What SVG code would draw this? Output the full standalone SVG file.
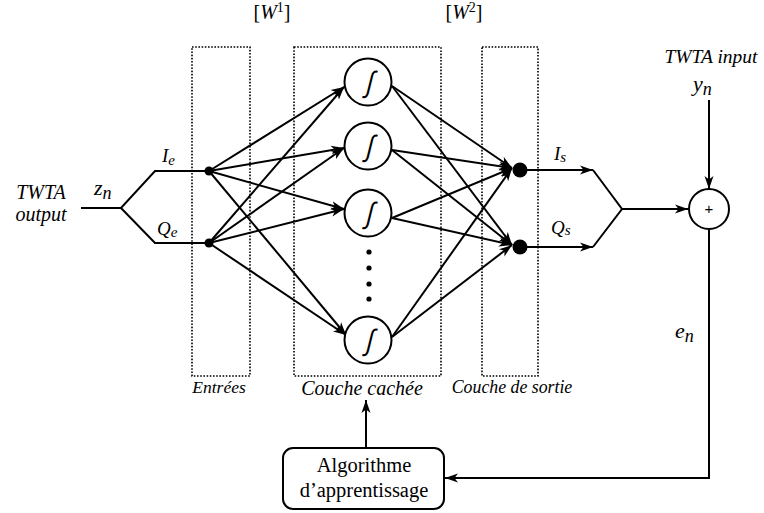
<svg xmlns="http://www.w3.org/2000/svg" width="764" height="513" viewBox="0 0 764 513">
<defs>
<marker id="ah" markerWidth="14" markerHeight="10" refX="13" refY="5" orient="auto" markerUnits="userSpaceOnUse">
<path d="M0,0.5 L13,5 L0,9.5 L3.5,5 z" fill="#000"/>
</marker>
<style>
.ln{stroke:#000;stroke-width:2;fill:none}
.ar{stroke:#000;stroke-width:2;fill:none;marker-end:url(#ah)}
.box{stroke:#000;stroke-width:1.6;fill:none;stroke-dasharray:1.6 1.6}
.neu{stroke:#000;stroke-width:2;fill:#fff}
.t{font-family:"Liberation Serif",serif;fill:#000}
.it{font-family:"Liberation Serif",serif;font-style:italic;fill:#000}
.sig{font-family:"DejaVu Sans",sans-serif;font-weight:200;font-size:28px;text-anchor:middle;fill:#000}
</style>
</defs>
<rect width="764" height="513" fill="#fff"/>

<g id="layers">
<rect class="box" x="192" y="47" width="58" height="329"/>
<rect class="box" x="294" y="47" width="147" height="329"/>
<rect class="box" x="482" y="47" width="56" height="329"/>
<text class="it" x="219" y="393" font-size="17.5" text-anchor="middle">Entrées</text>
<text class="it" x="362" y="395" font-size="20" text-anchor="middle">Couche cachée</text>
<text class="it" x="512" y="393" font-size="17.8" text-anchor="middle">Couche de sortie</text>
<text class="t" x="272" y="19" font-size="20" text-anchor="middle">[<tspan font-style="italic">W</tspan><tspan font-size="14" dy="-7">1</tspan><tspan dy="7">]</tspan></text>
<text class="t" x="464" y="19" font-size="20" text-anchor="middle">[<tspan font-style="italic">W</tspan><tspan font-size="14" dy="-7">2</tspan><tspan dy="7">]</tspan></text>
</g>

<g id="connectors">
<polyline class="ln" points="81,208 121,208 155,171 209,171"/>
<polyline class="ln" points="121,208 155,243 209,243"/>
<line class="ar" x1="209" y1="171" x2="344" y2="87"/>
<line class="ar" x1="209" y1="171" x2="344" y2="148"/>
<line class="ar" x1="209" y1="171" x2="344" y2="209"/>
<line class="ar" x1="209" y1="171" x2="346" y2="335"/>
<line class="ar" x1="209" y1="243" x2="344" y2="87"/>
<line class="ar" x1="209" y1="243" x2="344" y2="148"/>
<line class="ar" x1="209" y1="243" x2="344" y2="209"/>
<line class="ar" x1="209" y1="243" x2="346" y2="335"/>
<line class="ar" x1="392" y1="86" x2="512" y2="168"/>
<line class="ar" x1="392" y1="86" x2="512" y2="245"/>
<line class="ar" x1="392" y1="150" x2="512" y2="168"/>
<line class="ar" x1="392" y1="150" x2="512" y2="245"/>
<line class="ar" x1="392" y1="218" x2="512" y2="168"/>
<line class="ar" x1="392" y1="218" x2="512" y2="245"/>
<line class="ar" x1="392" y1="337" x2="512" y2="168"/>
<line class="ar" x1="392" y1="337" x2="512" y2="245"/>
<line class="ar" x1="520" y1="170" x2="593" y2="170"/>
<line class="ar" x1="520" y1="247" x2="593" y2="247"/>
<polyline class="ln" points="593,170 622,209 593,247"/>
<line class="ar" x1="622" y1="209" x2="688" y2="209"/>
<line class="ar" x1="709" y1="100" x2="709" y2="189"/>
<polyline class="ar" points="709,229 709,478 445,478"/>
<line class="ar" x1="366" y1="448" x2="366" y2="400"/>
</g>

<g id="input">
<text class="it" x="41" y="199" font-size="20" text-anchor="middle">TWTA</text>
<text class="it" x="41" y="221" font-size="20" text-anchor="middle">output</text>
<text class="it" x="94" y="195" font-size="22">z<tspan font-size="18" dy="4">n</tspan></text>
<text class="it" x="162" y="162" font-size="19">I<tspan font-size="15" dy="3">e</tspan></text>
<text class="it" x="157" y="235" font-size="19">Q<tspan font-size="15" dy="2">e</tspan></text>
</g>
<g id="in-Ie"><circle cx="209" cy="171" r="4.5" fill="#000"/></g>
<g id="in-Qe"><circle cx="209" cy="243" r="4.5" fill="#000"/></g>

<g id="h1"><circle class="neu" cx="368" cy="82" r="23.5"/><text class="sig" transform="translate(368,92) skewX(-14) scale(0.85,1.05)">∫</text></g>
<g id="h2"><circle class="neu" cx="368" cy="146" r="23.5"/><text class="sig" transform="translate(368,156) skewX(-14) scale(0.85,1.05)">∫</text></g>
<g id="h3"><circle class="neu" cx="368" cy="213" r="23.5"/><text class="sig" transform="translate(368,223) skewX(-14) scale(0.85,1.05)">∫</text></g>
<g id="hdots">
<circle cx="369" cy="252" r="2.6" fill="#000"/>
<circle cx="369" cy="268" r="2.6" fill="#000"/>
<circle cx="369" cy="284" r="2.6" fill="#000"/>
<circle cx="369" cy="299" r="2.6" fill="#000"/>
</g>
<g id="h4"><circle class="neu" cx="368" cy="340" r="23.5"/><text class="sig" transform="translate(368,350) skewX(-14) scale(0.85,1.05)">∫</text></g>

<g id="out-Is"><circle cx="520" cy="170" r="7.5" fill="#000"/>
<text class="it" x="554" y="160" font-size="19">I<tspan font-size="15" dy="2">s</tspan></text></g>
<g id="out-Qs"><circle cx="520" cy="247" r="7.5" fill="#000"/>
<text class="it" x="551" y="234" font-size="19">Q<tspan font-size="15" dy="1">s</tspan></text></g>

<g id="sum"><circle class="neu" cx="709" cy="209" r="20"/>
<text x="709" y="214" font-family="Liberation Sans, sans-serif" font-size="15" text-anchor="middle">+</text></g>

<g id="target">
<text class="it" x="711" y="63" font-size="19.5" text-anchor="middle">TWTA input</text>
<text class="it" x="693" y="91" font-size="22">y<tspan font-size="18" dy="4">n</tspan></text>
</g>
<g id="error"><text class="it" x="675" y="338" font-size="22">e<tspan font-size="18" dy="4">n</tspan></text></g>

<g id="algo">
<rect x="283" y="448" width="161" height="61" rx="10" fill="#fff" stroke="#000" stroke-width="2"/>
<text class="t" x="364" y="472" font-size="20.5" text-anchor="middle">Algorithme</text>
<text class="t" x="364" y="497" font-size="20.5" text-anchor="middle">d’apprentissage</text>
</g>
</svg>
